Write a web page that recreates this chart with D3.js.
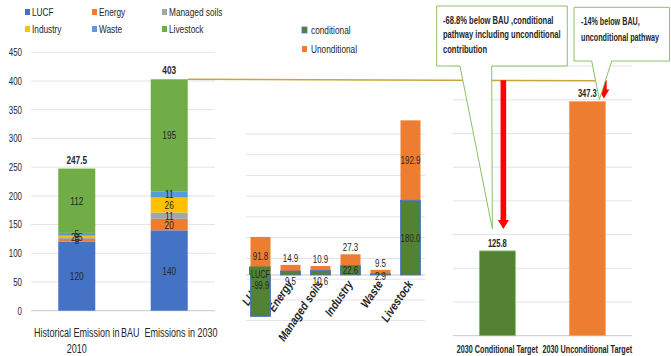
<!DOCTYPE html>
<html>
<head>
<meta charset="utf-8">
<script src="https://cdn.jsdelivr.net/npm/d3@7"></script>
<style>
  body { margin: 0; background: #fff; }
  svg text { font-family: "Liberation Sans", Arial, sans-serif; fill: #262626; white-space: pre; }
</style>
</head>
<body>
<svg id="chart" width="671" height="356"></svg>
<script>
// ---- data ----
const sectors = ["LUCF", "Energy", "Managed soils", "Industry", "Waste", "Livestock"];
const sectorColors = ["#4472C4", "#ED7D31", "#A5A5A5", "#FFC000", "#5B9BD5", "#70AD47"];

const leftCats = ["Historical Emission in 2010", "BAU  Emissions in 2030"];
const histValues = [120, 5, 3, 2.5, 5, 112];
const bauValues = [140, 20, 11, 26, 11, 195];
const leftTotals = ["247.5", "403"];
const leftTicks = [0, 50, 100, 150, 200, 250, 300, 350, 400, 450];

const conditional = [-99.9, 9.5, 10.6, 22.6, 2.9, 180.0];
const unconditional = [91.8, 14.9, 10.9, 27.3, 9.5, 192.9];
const midTicks = [-110, -60, -10, 40, 90, 140, 190, 240, 290, 340];

const targetCats = ["2030 Conditional Target", "2030 Unconditional Target"];
const targetValues = [125.8, 347.3];
const targetTicks = [0, 50, 100, 150, 200, 250, 300, 350, 400];
const calloutCond = ["-68.8% below BAU ,conditional", "pathway including unconditional", "contribution"];
const calloutUncond = ["-14% below BAU,", "unconditional pathway"];

const svg = d3.select("#chart");
const gridColor = "#e3e3e3";
const axisColor = "#c8c8c8";

// ================= left chart: stacked sectors =================
const yL = d3.scaleLinear().domain([0, 450]).range([310.7, 52.3]);
const xL = d3.scaleBand().domain(leftCats).range([31, 215]).paddingInner(0.6).paddingOuter(0.295);

const left = svg.append("g");
left.selectAll(".gridL").data(leftTicks).enter().append("line")
    .attr("x1", 31).attr("x2", 215)
    .attr("y1", d => yL(d)).attr("y2", d => yL(d))
    .attr("stroke", d => d === 0 ? axisColor : gridColor);

left.selectAll(".tickL").data(leftTicks).enter().append("text")
    .attr("x", 22).attr("y", d => yL(d)).attr("dy", "0.35em")
    .attr("text-anchor", "end").attr("font-size", 11)
    .text(d => d);

const leftRows = [histValues, bauValues].map((vals, i) => {
    const row = { cat: leftCats[i] };
    sectors.forEach((s, j) => row[s] = vals[j]);
    return row;
});
const leftSeries = d3.stack().keys(sectors)(leftRows);

leftSeries.forEach((ser, j) => {
    left.selectAll(".seg" + j).data(ser).enter().append("rect")
        .attr("x", d => xL(d.data.cat))
        .attr("width", xL.bandwidth())
        .attr("y", d => yL(d[1]))
        .attr("height", d => yL(d[0]) - yL(d[1]))
        .attr("fill", sectorColors[j]);
});
leftSeries.forEach((ser, j) => {
    left.selectAll(".lab" + j).data(ser).enter().append("text")
        .attr("x", d => xL(d.data.cat) + xL.bandwidth() / 2)
        .attr("y", d => yL((d[0] + d[1]) / 2)).attr("dy", "0.35em")
        .attr("text-anchor", "middle").attr("font-size", 11.5)
        .text(d => d[1] - d[0]);
});

// totals
left.selectAll(".tot").data(leftRows).enter().append("text")
    .attr("x", d => xL(d.cat) + xL.bandwidth() / 2)
    .attr("y", (d, i) => yL(d3.sum(i ? bauValues : histValues)) - 9).attr("dy", "0.35em")
    .attr("text-anchor", "middle").attr("font-size", 11.5).attr("font-weight", "bold")
    .text((d, i) => leftTotals[i]);

// category labels
const leftLabelLines = [["Historical Emission in", "2010"], ["BAU  Emissions in 2030"]];
leftCats.forEach((c, i) => {
    leftLabelLines[i].forEach((ln, k) => {
        left.append("text")
            .attr("x", xL(c) + xL.bandwidth() / 2)
            .attr("y", 333 + k * 16).attr("dy", "0.35em")
            .attr("text-anchor", "middle").attr("font-size", 12.5)
            .text(ln);
    });
});

// legend
const legL = svg.append("g");
sectors.forEach((s, j) => {
    const col = j % 3, row = Math.floor(j / 3);
    const lx = [27, 94, 164][col], ly = 12 + row * 17;
    legL.append("rect").attr("x", lx - 2).attr("y", ly - 3).attr("width", 5).attr("height", 6).attr("fill", sectorColors[j]);
    legL.append("text").attr("x", lx + 5).attr("y", ly).attr("dy", "0.35em").attr("font-size", 11.5).text(s);
});

// ================= middle chart: conditional / unconditional =================
const yM = d3.scaleLinear().domain([-110, 340]).range([320.6, 134]);
const xM = d3.scaleBand().domain(sectors).range([245.5, 425.5]).paddingInner(1 / 3).paddingOuter(1 / 6);
const mid = svg.append("g");

mid.selectAll(".gridM").data(midTicks).enter().append("line")
    .attr("x1", 246).attr("x2", 425)
    .attr("y1", d => yM(d)).attr("y2", d => yM(d))
    .attr("stroke", gridColor);
mid.append("line").attr("x1", 246).attr("x2", 425)
    .attr("y1", yM(0)).attr("y2", yM(0)).attr("stroke", axisColor);

// rotated category labels
mid.selectAll(".catM").data(sectors).enter().append("text")
    .attr("class", "rot")
    .attr("transform", d => `translate(${xM(d) + xM.bandwidth() / 2 + 3},${yM(0) + 9}) rotate(-56)`)
    .attr("text-anchor", "end").attr("font-size", 12)
    .attr("font-style", "italic").attr("font-weight", "bold")
    .text(d => d);

const bw = xM.bandwidth();
sectors.forEach((s, i) => {
    const c = conditional[i], u = unconditional[i];
    const cx = xM(s) + bw / 2;
    const base = c > 0 ? c : 0;
    // unconditional (orange) stacked over the positive part
    mid.append("rect").attr("x", xM(s)).attr("width", bw)
        .attr("y", yM(base + u)).attr("height", yM(base) - yM(base + u))
        .attr("fill", "#ED7D31");
    // conditional (green)
    mid.append("rect").attr("x", xM(s)).attr("width", bw)
        .attr("y", yM(Math.max(c, 0))).attr("height", Math.abs(yM(c) - yM(0)))
        .attr("fill", "#548235").attr("stroke", "#4472C4").attr("stroke-width", 0.8);

    // labels
    const uh = yM(base) - yM(base + u);
    const uy = uh < 14 ? yM(base + u) - 7 : (yM(base) + yM(base + u)) / 2;
    mid.append("text").attr("x", cx).attr("y", uy).attr("dy", "0.35em")
        .attr("text-anchor", "middle").attr("font-size", 11).text(u.toFixed(1));

    if (c < 0) {
        // LUCF: label box in green covering the axis label
        const t1 = mid.append("text").attr("x", cx).attr("y", yM(0)).attr("dy", "0.35em")
            .attr("text-anchor", "middle").attr("font-size", 10).text(s);
        const bb = t1.node().getBBox();
        mid.insert("rect", () => t1.node())
            .attr("x", xM(s) - 1.5).attr("width", bw + 1.5)
            .attr("y", bb.y - 3).attr("height", yM(0) - bb.y + 3)
            .attr("fill", "#548235");
        mid.append("text").attr("x", cx).attr("y", yM(0) + 10).attr("dy", "0.35em")
            .attr("text-anchor", "middle").attr("font-size", 10.5).text(c.toFixed(1));
    } else {
        const ch = yM(0) - yM(c);
        const cy = ch < 3 ? yM(0) + 1 : ch < 8 ? yM(0) + 6.5 : (yM(0) + yM(c)) / 2;
        mid.append("text").attr("x", cx).attr("y", cy).attr("dy", "0.35em")
            .attr("text-anchor", "middle").attr("font-size", 11).text(c.toFixed(1));
    }
});

// legend
const legM = svg.append("g");
[["conditional", "#548235"], ["Unonditional", "#ED7D31"]].forEach((d, k) => {
    const ly = 30 + k * 19;
    legM.append("rect").attr("x", 302).attr("y", ly - 3).attr("width", 5).attr("height", 6)
        .attr("fill", d[1]).attr("stroke", k ? "none" : "#4472C4").attr("stroke-width", 0.8);
    legM.append("text").attr("x", 311).attr("y", ly).attr("dy", "0.35em").attr("font-size", 11.5).text(d[0]);
});

// ================= right chart: targets =================
const yR = d3.scaleLinear().domain([0, 400]).range([335.7, 66.1]);
const xR = d3.scaleBand().domain(targetCats).range([452.7, 632]).paddingInner(0.6).paddingOuter(0.296);
const right = svg.append("g");

right.selectAll(".gridR").data(targetTicks).enter().append("line")
    .attr("x1", 452.7).attr("x2", 632)
    .attr("y1", d => yR(d)).attr("y2", d => yR(d))
    .attr("stroke", d => d === 0 ? axisColor : gridColor);

const targetColors = ["#548235", "#ED7D31"];
right.selectAll(".barR").data(targetValues).enter().append("rect")
    .attr("x", (d, i) => xR(targetCats[i]))
    .attr("width", xR.bandwidth())
    .attr("y", d => yR(d))
    .attr("height", d => yR(0) - yR(d))
    .attr("fill", (d, i) => targetColors[i])
    .attr("stroke", (d, i) => i ? "#f4a470" : "#8cc168").attr("stroke-width", 0.8);

right.selectAll(".labR").data(targetValues).enter().append("text")
    .attr("x", (d, i) => xR(targetCats[i]) + xR.bandwidth() / 2)
    .attr("y", d => yR(d) - 8).attr("dy", "0.35em")
    .attr("text-anchor", "middle").attr("font-size", 10.5).attr("font-weight", "bold")
    .text(d => d.toFixed(1));

right.selectAll(".catR").data(targetCats).enter().append("text")
    .attr("x", d => xR(d) + xR.bandwidth() / 2)
    .attr("y", 349).attr("dy", "0.35em")
    .attr("text-anchor", "middle").attr("font-size", 10).attr("font-weight", "bold")
    .text(d => d);

// ================= annotations =================
const bauLevel = yL(d3.sum(bauValues));
const rbw = xR.bandwidth();
const tip1 = [xR(targetCats[0]) + rbw / 2 - 5, yR(targetValues[0]) - 22];
const tip2 = [xR(targetCats[1]) + rbw / 2 + 12, yR(targetValues[1]) - 2];

// BAU reference line
svg.append("line")
    .attr("x1", xL(leftCats[1]) + xL.bandwidth()).attr("x2", xR(targetCats[1]) + rbw)
    .attr("y1", bauLevel).attr("y2", bauLevel + 1.5)
    .attr("stroke", "#c9a43a").attr("stroke-width", 1.5);

// red arrows
function arrow(x, y0, y1) {
    const hw = 5.5, sw = 2.8, hh = 9;
    svg.append("path")
        .attr("d", `M${x - sw},${y0} H${x + sw} V${y1 - hh} H${x + hw} L${x},${y1} L${x - hw},${y1 - hh} H${x - sw} Z`)
        .attr("fill", "#ff0000");
}
arrow(xR(targetCats[0]) + rbw / 2 + 6, bauLevel + 1, tip1[1]);
arrow(xR(targetCats[1]) + rbw - 1.5, bauLevel + 1, tip2[1] - 1);

// callouts
function callout(x0, y0, x1, y1, wl, wr, tip, lines, tx, ty, lh, fs) {
    svg.append("path")
        .attr("d", `M${x0},${y0} H${x1} V${y1} H${wr} L${tip[0]},${tip[1]} L${wl},${y1} H${x0} Z`)
        .attr("fill", "#fff").attr("stroke", "#8cc168").attr("stroke-width", 1);
    lines.forEach((ln, k) => {
        svg.append("text").attr("x", tx).attr("y", ty + k * lh).attr("dy", "0.35em")
            .attr("font-size", fs).attr("font-weight", "bold").text(ln);
    });
}
callout(436.7, 6, 567.3, 66, 460, 491.7, tip1, calloutCond, 443, 20, 14.5, 10.5);
callout(574, 7.3, 669.5, 61, 591.7, 611.7, tip2, calloutUncond, 581, 21, 16, 10);

// the original uses a condensed font: squeeze every label horizontally
svg.selectAll("text").each(function () {
    const w = this.getComputedTextLength();
    const k = this.classList.contains("rot") ? 0.85 : 0.72;
    d3.select(this).attr("textLength", w * k).attr("lengthAdjust", "spacingAndGlyphs");
});
</script>
</body>
</html>
